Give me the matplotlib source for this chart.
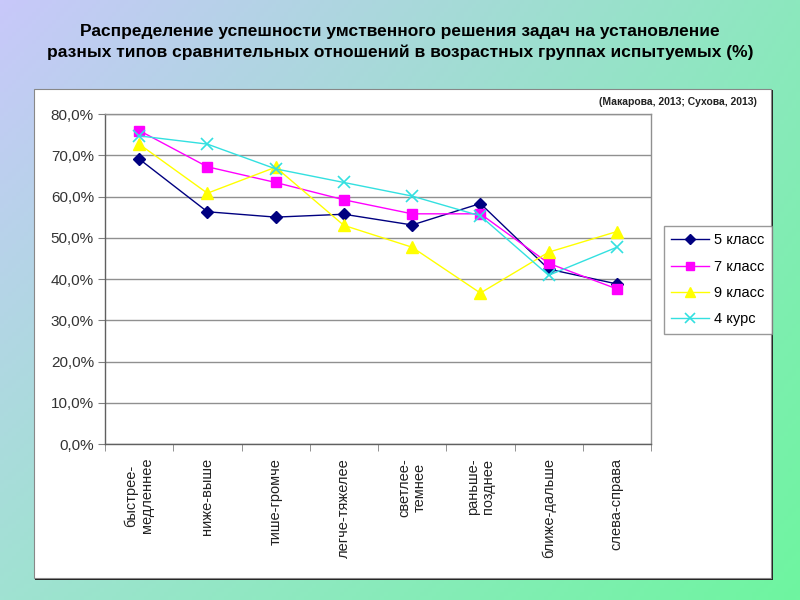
import matplotlib.pyplot as plt
import numpy as np
from matplotlib.patches import Rectangle
from matplotlib.ticker import FuncFormatter

plt.rcParams['font.family'] = ['Liberation Sans', 'DejaVu Sans']

# Категории (типы сравнительных отношений)
categories = ["быстрее-\nмедленнее", "ниже-выше", "тише-громче", "легче-тяжелее",
              "светлее-\nтемнее", "раньше-\nпозднее", "ближе-дальше", "слева-справа"]

# Значения по группам, %
grade5 = [69.1, 56.3, 55.0, 55.7, 53.1, 58.3, 42.4, 38.8]
grade7 = [76.0, 67.2, 63.4, 59.2, 55.8, 55.8, 43.8, 37.6]
grade9 = [72.7, 60.8, 67.1, 53.0, 47.7, 36.6, 46.5, 51.5]
course4 = [74.7, 72.7, 66.7, 63.4, 60.1, 55.3, 40.9, 47.7]

series_names = ["5 класс", "7 класс", "9 класс", "4 курс"]

title = ("Распределение успешности умственного решения задач на установление\n"
         "разных типов сравнительных отношений в возрастных группах испытуемых (%)")
source = "(Макарова, 2013; Сухова, 2013)"

fig = plt.figure(figsize=(8, 6), dpi=100)

# Фон слайда: градиент от сиреневого к зелёному
bg = fig.add_axes([0, 0, 1, 1], zorder=-10)
tl = np.array([200, 200, 250]) / 255
tr = np.array([140, 232, 190]) / 255
bl = np.array([160, 226, 210]) / 255
br = np.array([110, 245, 160]) / 255
u = np.linspace(0, 1, 200)[None, :, None]
v = np.linspace(0, 1, 150)[:, None, None]
grad = (1 - v) * ((1 - u) * tl + u * tr) + v * ((1 - u) * bl + u * br)
bg.imshow(grad, aspect="auto", extent=[0, 1, 0, 1], origin="upper")
bg.set_xlim(0, 1)
bg.set_ylim(0, 1)
bg.axis("off")

# Белая панель диаграммы с тенью
px, py = 1 / 800, 1 / 600
fig.patches.append(Rectangle((35 * px, 1 - 580 * py), 738 * px, 490 * py,
                             transform=fig.transFigure, facecolor="#222222",
                             edgecolor="none", zorder=-5))
fig.patches.append(Rectangle((34 * px, 1 - 578 * py), 737 * px, 489 * py,
                             transform=fig.transFigure, facecolor="white",
                             edgecolor="#888888", linewidth=0.8, zorder=-4))

fig.text(0.5, 1 - 42 * py, title, ha="center", va="center", fontsize=12.5,
         fontweight="bold", linespacing=1.5)
fig.text(757 * px, 1 - 102 * py, source, ha="right", va="center", fontsize=7.5,
         fontweight="bold", color="#222222")

ax = fig.add_axes([105 * px, 1 - 444 * py, 546 * px, 330 * py])
x = np.arange(len(categories))

styles = [
    dict(color="#000080", marker="D", markersize=6),
    dict(color="#FF00FF", marker="s", markersize=7),
    dict(color="#FFFF00", marker="^", markersize=8),
    dict(color="#33E0E0", marker="x", markersize=8, markeredgewidth=1.2),
]
for vals, name, st in zip([grade5, grade7, grade9, course4], series_names, styles):
    ax.plot(x, vals, linewidth=1.0, label=name, **st)

ax.set_xlim(-0.5, len(categories) - 0.5)
ax.set_ylim(0, 80)
ax.set_yticks(np.arange(0, 81, 10))
ax.yaxis.set_major_formatter(FuncFormatter(lambda v, p: f"{v:.1f}%".replace(".", ",")))
ax.grid(axis="y", color="#909090", linewidth=1.0)
ax.set_axisbelow(True)

# Деления по оси X между категориями
ax.set_xticks(x)
ax.set_xticklabels(categories, rotation=90, va="top", ha="center", fontsize=10.5,
                   linespacing=1.15, multialignment="center", color="#222222")
ax.set_xticks(np.arange(-0.5, len(categories)), minor=True)
ax.tick_params(axis="x", which="major", length=0, pad=10)
ax.tick_params(axis="x", which="minor", length=5, color="#808080")
ax.tick_params(axis="y", length=5, color="#808080", labelsize=11, pad=3,
               labelcolor="#333333")

for side in ["left", "bottom", "right", "top"]:
    ax.spines[side].set_color("#909090")
    ax.spines[side].set_linewidth(1.0)
ax.spines["left"].set_color("#606060")
ax.spines["bottom"].set_color("#606060")

fig.legend(loc="upper left", bbox_to_anchor=(664 * px, 1 - 226 * py),
           frameon=True, fancybox=False, edgecolor="#808080", fontsize=10.5,
           handlelength=2.6, borderpad=0.5, labelspacing=0.85, handletextpad=0.35,
           borderaxespad=0, markerscale=0.85)

fig.savefig("out.png", dpi=100)
